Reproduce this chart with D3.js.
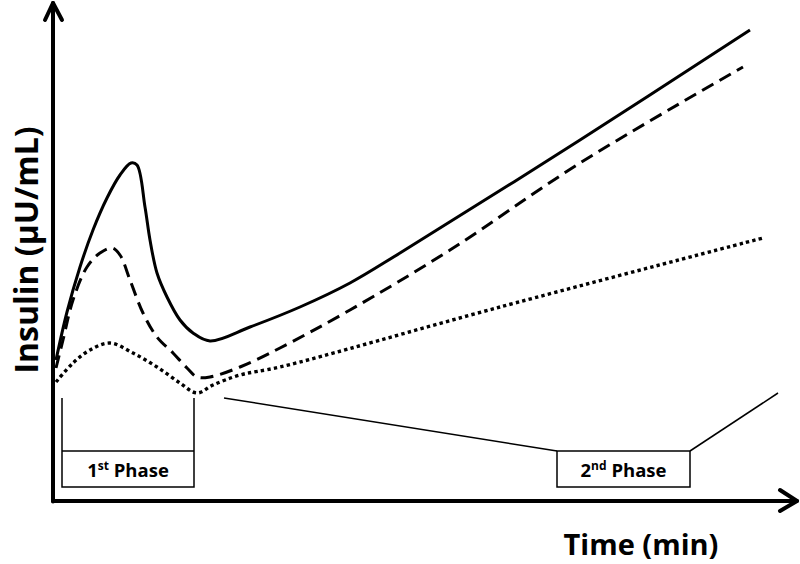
<html>
<head>
<script src="https://d3js.org/d3.v7.min.js"></script>
<style>
  body { margin: 0; background: #fff; }
  svg { display: block; }
  text { font-family: "Open Sans", Lato, sans-serif; font-weight: bold; fill: #000; }
</style>
</head>
<body>
<svg id="chart" width="800" height="564"></svg>
<script>
// time (arbitrary min) and insulin (arbitrary uU/mL)
const solidT = [0.4, 2.6, 5.2, 7.8, 10.6, 13.2, 15.4, 16.6, 18.2, 19.2, 20.6, 22.6, 25.2, 27.8, 31.2, 39.2, 49.2, 59.2, 69.2, 105.2, 139.2];
const solidV = [28, 37.6, 46.6, 54, 60.4, 65, 67.4, 67, 58.6, 52, 45.4, 40.6, 36, 33.4, 31.8, 34.6, 38.6, 43.4, 49.4, 72, 94];

const dashT = [0.4, 1.8, 3.8, 6.6, 9.2, 11.6, 13.2, 15.2, 17.8, 20.6, 23.8, 26.6, 28.6, 31.2, 37.2, 45.2, 59.2, 79.2, 105.2, 137.8];
const dashV = [26.4, 32, 40, 46.6, 49.4, 50.4, 49, 44, 37.4, 32.6, 29.4, 26.4, 24.6, 24.6, 26.6, 30.4, 38, 50, 67.4, 86.6];

const dotT = [0.4, 3.8, 7.2, 11.2, 15.8, 20.6, 25.2, 28.6, 31.8, 37.2, 45.2, 89.2, 141.8];
const dotV = [23.6, 27.4, 30, 31.4, 29.4, 26.6, 23.4, 21.4, 23, 25, 26.6, 38.6, 52.4];

// phase annotations
const phase1 = [1.6, 28];        // bracket start/end (time)
const phase2 = [100.6, 127.2];   // box start/end (time)
const bracketTop = 20.4, boxTop = 9.8, boxBottom = 2.6;
const phase2Left = [34, 20.4];   // start of left connector
const phase2Right = [144.8, 21.4]; // end of right connector

const svg = d3.select("#chart");
const x = d3.scaleLinear().domain([0, 150]).range([54, 804]);
const y = d3.scaleLinear().domain([0, 100]).range([500, 0]);

const line = d3.line().x(d => x(d[0])).y(d => y(d[1])).curve(d3.curveCatmullRom.alpha(0.5));

function draw(ts, vs, dash, width) {
    svg.append("path")
        .datum(ts.map((t, i) => [t, vs[i]]))
        .attr("d", line)
        .attr("fill", "none")
        .attr("stroke", "#000")
        .attr("stroke-width", width)
        .attr("stroke-dasharray", dash);
}
draw(solidT, solidV, null, 3);
draw(dashT, dashV, "13,7", 3);
draw(dotT, dotV, "3.4,3.2", 3.4);

// axes with arrow heads
const ax = svg.append("g").attr("stroke", "#000").attr("stroke-width", 4).attr("fill", "none")
    .attr("stroke-linecap", "round").attr("stroke-linejoin", "round");
ax.append("line").attr("x1", x(-0.2)).attr("y1", y(-0.3)).attr("x2", x(-0.2)).attr("y2", y(99.4));
ax.append("polyline").attr("points", [[x(-1.8), y(96)], [x(-0.2), y(99.4)], [x(1.6), y(96)]].join(" "));
ax.append("line").attr("x1", x(-0.2)).attr("y1", y(-0.2)).attr("x2", x(148.6)).attr("y2", y(-0.2));
ax.append("polyline").attr("points", [[x(145.2), y(2)], [x(148.6), y(-0.2)], [x(145.2), y(-2.2)]].join(" "));

// phase brackets and boxes
const ann = svg.append("g").attr("stroke", "#000").attr("stroke-width", 1.5).attr("fill", "none");
ann.append("polyline").attr("points",
    [[x(phase1[0]), y(bracketTop)], [x(phase1[0]), y(boxBottom)], [x(phase1[1]), y(boxBottom)], [x(phase1[1]), y(bracketTop)]].join(" "));
ann.append("line").attr("x1", x(phase1[0])).attr("x2", x(phase1[1])).attr("y1", y(boxTop)).attr("y2", y(boxTop));
ann.append("rect").attr("x", x(phase2[0])).attr("y", y(boxTop))
    .attr("width", x(phase2[1]) - x(phase2[0])).attr("height", y(boxBottom) - y(boxTop));
ann.append("line").attr("x1", x(phase2Left[0])).attr("y1", y(phase2Left[1])).attr("x2", x(phase2[0])).attr("y2", y(boxTop));
ann.append("line").attr("x1", x(phase2[1])).attr("y1", y(boxTop)).attr("x2", x(phase2Right[0])).attr("y2", y(phase2Right[1]));

function phaseLabel(cx, num, sup) {
    const t = svg.append("text").attr("x", cx).attr("y", y(boxBottom) - 10)
        .attr("text-anchor", "middle").attr("font-size", 18.5);
    t.append("tspan").text(num);
    t.append("tspan").attr("font-size", 12).attr("dy", -7).text(sup);
    t.append("tspan").attr("dy", 7).text(" Phase");
}
phaseLabel((x(phase1[0]) + x(phase1[1])) / 2, "1", "st");
phaseLabel((x(phase2[0]) + x(phase2[1])) / 2, "2", "nd");

// axis titles
svg.append("text").attr("x", 641).attr("y", 555).attr("text-anchor", "middle")
    .attr("font-size", 29).text("Time (min)");
svg.append("text").attr("transform", "translate(38,250) rotate(-90)").attr("text-anchor", "middle")
    .attr("font-size", 32).text("Insulin (\u00b5U/mL)");
</script>
</body>
</html>
